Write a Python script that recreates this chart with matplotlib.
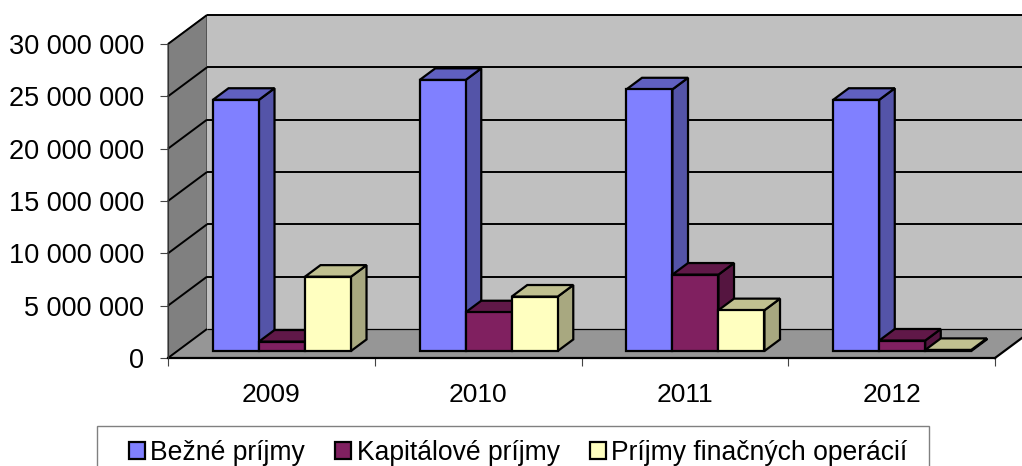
#!/usr/bin/env python3
"""Pseudo 3D clustered columns: budget income by year."""

import matplotlib
matplotlib.use('Agg')
import matplotlib.pyplot as plt
from matplotlib.patches import Polygon, Patch, Rectangle

plt.rcParams['font.family'] = ['Liberation Sans', 'DejaVu Sans']

years = ['2009', '2010', '2011', '2012']
bezne = [24000000, 25900000, 25000000, 24000000]
kapitalove = [900000, 3700000, 7300000, 1000000]
financne = [7100000, 5200000, 3900000, 100000]
y_ticks = [0, 5000000, 10000000, 15000000, 20000000, 25000000, 30000000]
y_labels = ['0', '5 000 000', '10 000 000', '15 000 000', '20 000 000', '25 000 000', '30 000 000']
series_names = ['Bežné príjmy', 'Kapitálové príjmy', 'Príjmy finačných operácií']

# front, top, side colours for each series
colors = [('#8080FF', '#6060C0', '#5454A8'),
          ('#802060', '#601848', '#551540'),
          ('#FFFFC0', '#C0C090', '#A8A880')]

W, H = 1022, 466
fig = plt.figure(figsize=(W / 100, H / 100), dpi=100)
ax = fig.add_axes([168 / W, (H - 358) / H, 827 / W, 314 / H])
ax.set_xlim(0, 4)
ax.set_ylim(0, 30000000)

# full depth of the box, in axis units
DX = 0.1886
DY = 2770000


def shift(x, y, d):
    return (x + DX * d, y + DY * d)


def poly(pts, fc, z, lw=1.6, ec='black'):
    ax.add_patch(Polygon(pts, closed=True, facecolor=fc, edgecolor=ec, linewidth=lw,
                         zorder=z, clip_on=False, joinstyle='miter'))


# walls and floor
top = y_ticks[-1]
poly([(0, 0), shift(0, 0, 1), shift(0, top, 1), (0, top)], '#808080', 1, lw=0.8, ec='#333333')
poly([shift(0, 0, 1), shift(4, 0, 1), shift(4, top, 1), shift(0, top, 1)], '#C0C0C0', 1, lw=0)
poly([(0, 0), (4, 0), shift(4, 0, 1), shift(0, 0, 1)], '#969696', 1.5, lw=0)

# grid lines, back wall and side wall
for t in y_ticks:
    bx, by = shift(0, t, 1)
    ex, ey = shift(4, t, 1)
    ax.plot([bx, ex], [by, ey], color='black', lw=1.4 if t else 0.9, zorder=2, clip_on=False,
            solid_capstyle='butt')
    ax.plot([0, bx], [t, by], color='black', lw=1.4, zorder=2, clip_on=False,
            solid_capstyle='butt')
ax.plot([4, 4 + DX], [0, DY], color='black', lw=1.6, zorder=2, clip_on=False)

# columns
bar_w = 0.2225
start = 0.172
d1, d2 = 0.24, 0.64
z = 3
for i, year in enumerate(years):
    for s, vals in enumerate([bezne, kapitalove, financne]):
        v = vals[i]
        x0 = i + start + s * bar_w
        x1 = x0 + bar_w
        front, top_c, side = colors[s]
        a, b = shift(x0, 0, d1), shift(x1, 0, d1)
        c, e = shift(x1, v, d1), shift(x0, v, d1)
        poly([b, shift(x1, 0, d2), shift(x1, v, d2), c], side, z)
        poly([e, c, shift(x1, v, d2), shift(x0, v, d2)], top_c, z)
        poly([a, b, c, e], front, z)
        z += 1

# axes
for name in ['top', 'right']:
    ax.spines[name].set_visible(False)
ax.spines['left'].set_color('#333333')
ax.spines['left'].set_linewidth(0.8)
ax.spines['bottom'].set_color('black')
ax.spines['bottom'].set_linewidth(1.6)
ax.spines['bottom'].set_zorder(2)
ax.set_yticks(y_ticks)
ax.set_yticklabels(y_labels, fontsize=19.5, color='black')
ax.set_xticks([0, 1, 2, 3, 4])
ax.set_xticklabels([])
ax.set_xticks([0.5, 1.5, 2.5, 3.5], minor=True)
ax.set_xticklabels(years, minor=True, fontsize=19)
ax.tick_params(axis='y', length=6, width=0.8, color='#444444', pad=11)
ax.tick_params(axis='x', which='major', length=6, width=0.8, color='#444444')
ax.tick_params(axis='x', which='minor', length=0, pad=18)

# legend frame runs off the bottom of the picture
fig.add_artist(Rectangle((97 / W, -0.05), 832 / W, (H - 426) / H + 0.05,
                         transform=fig.transFigure, facecolor='white',
                         edgecolor='#808080', linewidth=1.0))
handles = [Patch(facecolor=c[0], edgecolor='black', linewidth=1.6) for c in colors]
fig.legend(handles, series_names, ncol=3, loc='upper left',
           bbox_to_anchor=(129 / W, (H - 440) / H), borderaxespad=0,
           fontsize=19.1, frameon=False,
           handlelength=0.6, handleheight=0.6, handletextpad=0.2,
           columnspacing=1.15, borderpad=0)

fig.savefig('out.png', dpi=100)
plt.close(fig)
